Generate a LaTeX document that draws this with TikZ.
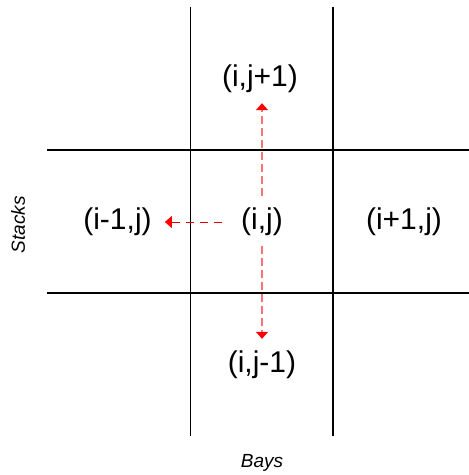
\documentclass[tikz,border=0pt]{standalone}
\usepackage{fontspec}
\setmainfont{Liberation Sans}
\usetikzlibrary{arrows.meta}
\begin{document}
\begin{tikzpicture}[x=1pt,y=-1pt,
  grid/.style={line width=1.6pt,black},
  cell/.style={inner sep=0pt,font=\fontsize{30}{36}\selectfont},
  axis/.style={inner sep=0pt,font=\fontsize{19}{23}\selectfont\itshape},
  vmove/.style={draw=red!55,line width=1.6pt,dash pattern=on 8pt off 4pt,
    -{Triangle[color=red,width=12pt,length=7pt]}},
  hmove/.style={draw=red!85!black,line width=0.8pt,dash pattern=on 8pt off 6pt,
    -{Triangle[color=red,width=12pt,length=7pt]}}]
\useasboundingbox (0,0) rectangle (469,475);
\fill[white] (0,0) rectangle (469,475);
% grid
\coordinate (v1t) at (190.5,7);
\coordinate (v1b) at (190.5,436);
\coordinate (v2t) at (333,7);
\coordinate (v2b) at (333,436);
\coordinate (h1l) at (47,150);
\coordinate (h1r) at (469,150);
\coordinate (h2l) at (47,293);
\coordinate (h2r) at (469,293);
\draw[grid] (v1t) -- (v1b);
\draw[grid] (v2t) -- (v2b);
\draw[grid] (h1l) -- (h1r);
\draw[grid] (h2l) -- (h2r);
% cells
\node[cell] (ijp) at (260,79) {(i,j+1)};
\node[cell] (im) at (117.5,222) {(i-1,j)};
\node[cell] (ij) at (262,222) {(i,j)};
\node[cell] (ip) at (404,222) {(i+1,j)};
\node[cell] (ijm) at (262,365) {(i,j-1)};
% axes
\node[axis,rotate=90] (stacks) at (18,225) {Stacks};
\node[axis] (bays) at (262,463) {Bays};
% moves
\draw[vmove,shorten <=12pt,shorten >=10pt] (ij.north) -- (ij.north |- ijp.south);
\draw[vmove,shorten <=10pt,shorten >=12pt] (ij.south) -- (ij.south |- ijm.north);
\draw[hmove,shorten <=19pt,shorten >=13pt] (ij.west) -- (im.east);
\end{tikzpicture}
\end{document}
